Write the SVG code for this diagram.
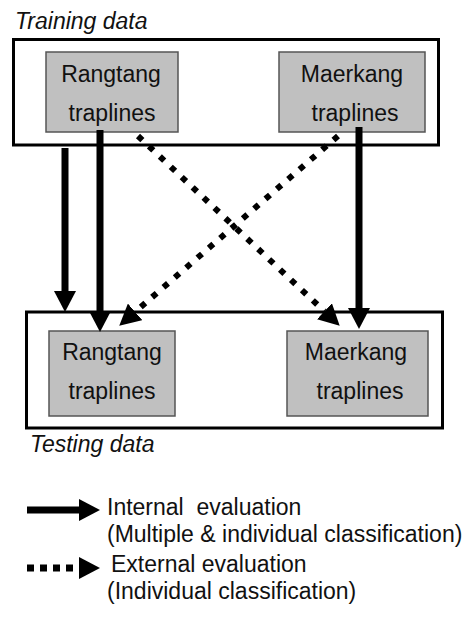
<svg xmlns="http://www.w3.org/2000/svg" width="465" height="619" viewBox="0 0 465 619">
<style>
text{font-family:"Liberation Sans",Arial,sans-serif;font-size:23px;fill:#111}
.it{font-style:italic}
.c{text-anchor:middle}
.outer{fill:none;stroke:#000;stroke-width:3}
.node{fill:#c0c0c0;stroke:#555;stroke-width:1.5}
.solid{fill:none;stroke:#000;stroke-width:7}
.dot{fill:none;stroke:#000;stroke-width:6;stroke-dasharray:6 9}
.dotl{fill:none;stroke:#000;stroke-width:7;stroke-dasharray:7 6}
</style>
<defs>
<marker id="ah" markerUnits="userSpaceOnUse" viewBox="0 0 21 22" refX="0" refY="11" markerWidth="21" markerHeight="22" orient="auto">
<path d="M0,0 L21,11 L0,22 Z" fill="#000"/>
</marker>
</defs>
<rect width="465" height="619" fill="#fff"/>
<g id="training">
<rect class="outer" x="13.5" y="39.5" width="425" height="105.5"/>
<text class="it" x="15" y="29">Training data</text>
</g>
<g id="testing">
<rect class="outer" x="26.5" y="312" width="416" height="116"/>
<text class="it" x="30" y="452">Testing data</text>
</g>
<g id="train-rangtang">
<rect class="node" x="46" y="52" width="132" height="80"/>
<text class="c" x="111" y="82">Rangtang</text>
<text class="c" x="112" y="121">traplines</text>
</g>
<g id="train-maerkang">
<rect class="node" x="279" y="52" width="146" height="80"/>
<text class="c" x="352" y="82">Maerkang</text>
<text class="c" x="355" y="121">traplines</text>
</g>
<g id="test-rangtang">
<rect class="node" x="49" y="331" width="126" height="85"/>
<text class="c" x="112" y="360">Rangtang</text>
<text class="c" x="112" y="399">traplines</text>
</g>
<g id="test-maerkang">
<rect class="node" x="287" y="331" width="141" height="85"/>
<text class="c" x="356" y="360">Maerkang</text>
<text class="c" x="360" y="399">traplines</text>
</g>
<g id="connectors">
<path class="solid" d="M65,148 L65,291" marker-end="url(#ah)"/>
<path class="solid" d="M100,130 L100,311" marker-end="url(#ah)"/>
<path class="solid" d="M359,127 L359,308" marker-end="url(#ah)"/>
<path class="dot" d="M138,136 L324.4,311.3" marker-end="url(#ah)"/>
<path class="dot" d="M338,136 L135.1,311.9" marker-end="url(#ah)"/>
</g>
<g id="legend">
<path class="solid" d="M27,510 L79,510" marker-end="url(#ah)"/>
<text x="107" y="515" xml:space="preserve">Internal  evaluation</text>
<text x="107" y="542">(Multiple &amp; individual classification)</text>
<path class="dotl" d="M27,568 L79,568" marker-end="url(#ah)"/>
<text x="111" y="572">External evaluation</text>
<text x="107" y="599">(Individual classification)</text>
</g>
</svg>
